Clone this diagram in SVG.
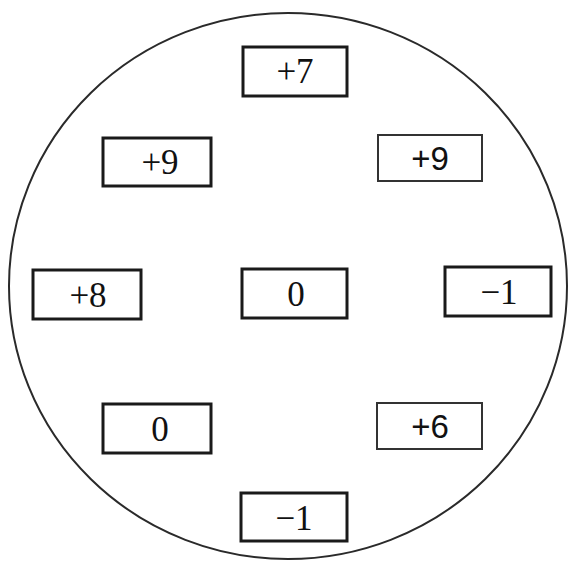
<svg xmlns="http://www.w3.org/2000/svg" width="574" height="566" viewBox="0 0 574 566">
<style>
.bx{fill:#fff;stroke:#1a1a1a;stroke-width:3}
.bt{fill:#fff;stroke:#333;stroke-width:2}
.t{font-family:"Liberation Serif","Times New Roman",serif;font-size:35px;fill:#111;text-anchor:middle}
.s{font-family:"Liberation Sans",Arial,sans-serif;font-size:33px;fill:#111;text-anchor:middle}
</style>
<rect width="574" height="566" fill="#fff"/>
<ellipse cx="288" cy="286" rx="279" ry="273" fill="none" stroke="#2a2a2a" stroke-width="2"/>
<g id="connectors"></g>
<g id="n1"><rect class="bx" x="243" y="47" width="104" height="49"/><text class="t" x="295" y="83">+7</text></g>
<g id="n2"><rect class="bx" x="103" y="138" width="108" height="48"/><text class="t" x="160" y="174">+9</text></g>
<g id="n3"><rect class="bt" x="378" y="135" width="104" height="46"/><text class="s" x="430" y="170">+9</text></g>
<g id="n4"><rect class="bx" x="33" y="270" width="108" height="49"/><text class="t" x="88" y="307">+8</text></g>
<g id="n5"><rect class="bx" x="242" y="269" width="105" height="49"/><text class="t" x="296" y="306">0</text></g>
<g id="n6"><rect class="bx" x="445" y="267" width="106" height="49"/><text class="t" x="499" y="304">−1</text></g>
<g id="n7"><rect class="bx" x="103" y="404" width="108" height="49"/><text class="t" x="160" y="441">0</text></g>
<g id="n8"><rect class="bt" x="377" y="403" width="105" height="46"/><text class="s" x="430" y="438">+6</text></g>
<g id="n9"><rect class="bx" x="241" y="493" width="106" height="48"/><text class="t" x="294" y="530">−1</text></g>
</svg>
